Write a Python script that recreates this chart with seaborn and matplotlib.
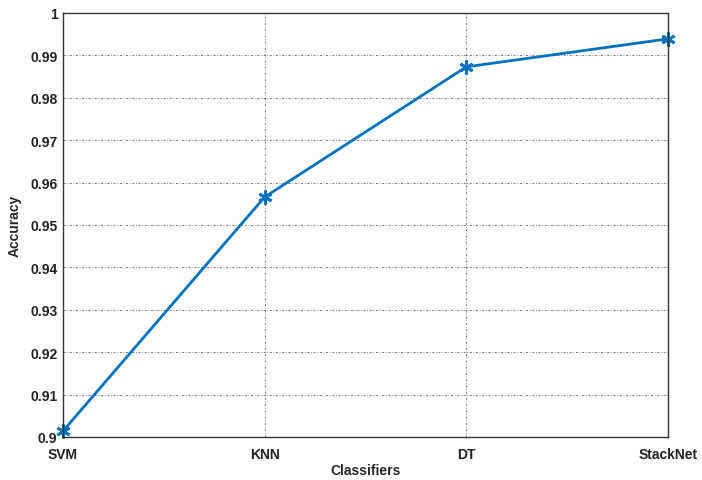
import matplotlib
matplotlib.use("Agg")
import matplotlib.pyplot as plt
import pandas as pd
import seaborn as sns

classifiers = ["SVM", "KNN", "DT", "StackNet"]
accuracy = [0.9014, 0.9566, 0.9873, 0.9939]
y_ticks = [0.9, 0.91, 0.92, 0.93, 0.94, 0.95, 0.96, 0.97, 0.98, 0.99, 1.0]
y_tick_labels = ["0.9", "0.91", "0.92", "0.93", "0.94", "0.95", "0.96", "0.97", "0.98", "0.99", "1"]

sns.set_theme(style="white")
plt.rcParams["font.family"] = ["Liberation Sans", "DejaVu Sans"]

df = pd.DataFrame({"classifier": classifiers, "accuracy": accuracy})
df["pos"] = range(len(df))

fig = plt.figure(figsize=(7.02, 4.81), dpi=100)
ax = fig.add_axes([0.0897, 0.0894, 0.8619, 0.8815])

sns.lineplot(data=df, x="pos", y="accuracy", ax=ax, color="#0072BD", linewidth=2,
             marker=(6, 2, 0), markersize=10, markeredgewidth=2, markeredgecolor="#0072BD",
             clip_on=False)

ax.set_xlim(0, len(classifiers) - 1)
ax.set_ylim(0.9, 1.0)
ax.set_xticks(df["pos"])
ax.set_xticklabels(classifiers, fontsize=10, fontweight="bold")
ax.set_yticks(y_ticks)
ax.set_yticklabels(y_tick_labels, fontsize=10, fontweight="bold")
ax.set_xlabel("Classifiers", fontsize=10, fontweight="bold", labelpad=2)
ax.set_ylabel("Accuracy", fontsize=10, fontweight="bold", labelpad=6)

ax.grid(True, color="#444444", linestyle=(0, (3, 2.5, 1, 2.5)), linewidth=0.5)
ax.tick_params(direction="in", length=4, color="#333333", labelcolor="#222222")
ax.tick_params(axis="x", pad=7)
ax.tick_params(axis="y", pad=4)
for spine in ax.spines.values():
    spine.set_visible(True)
    spine.set_color("#333333")
    spine.set_linewidth(1.0)

fig.savefig("out.png", dpi=100)
